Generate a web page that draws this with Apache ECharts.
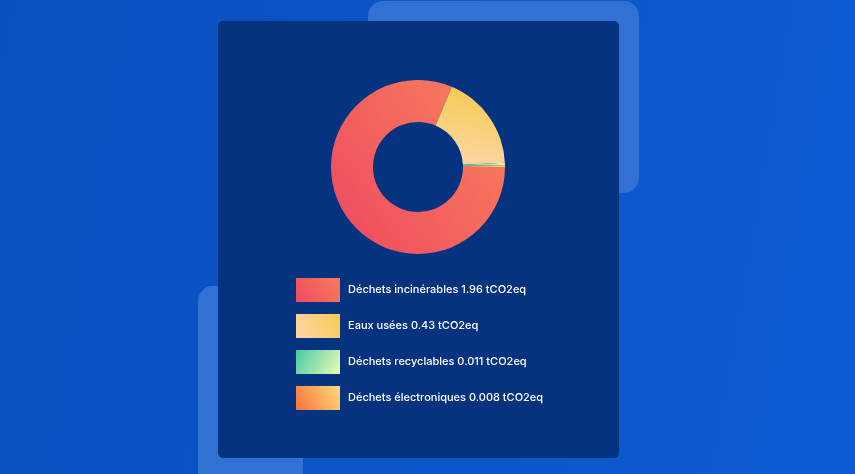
<!DOCTYPE html>
<html>
<head>
<meta charset="utf-8">
<script src="https://cdn.jsdelivr.net/npm/echarts@6/dist/echarts.min.js"></script>
<style>
  html, body { margin: 0; padding: 0; width: 855px; height: 474px; overflow: hidden; }
  body { background: linear-gradient(100deg, #094fbf 0%, #0b55c9 50%, #0d5cd3 100%); position: relative; font-family: Inter, "Noto Sans", sans-serif; }
  .deco { position: absolute; background: #3171d3; border-radius: 15px; }
  #card { position: absolute; left: 218px; top: 21px; width: 401px; height: 437px; background: #05337f; border-radius: 5px; }
  #chart { width: 401px; height: 437px; }
</style>
</head>
<body>
<div class="deco" style="left:368px;top:1px;width:271px;height:192px;"></div>
<div class="deco" style="left:198px;top:286px;width:105px;height:220px;"></div>
<div id="card"><div id="chart"></div></div>
<script>
var myChart = echarts.init(document.getElementById('chart'));

var categories = ['Déchets incinérables', 'Eaux usées', 'Déchets recyclables', 'Déchets électroniques'];
var values = [1.96, 0.43, 0.011, 0.008];
var unit = 'tCO2eq';
// gradient stops: [start colour, end colour]
var gradients = [
    ['#ee4c60', '#f87a5d'],
    ['#ffd6a8', '#f4cb52'],
    ['#45cba9', '#eefab0'],
    ['#f5733a', '#ffdb7c']
];
// gradient direction in the ring [x, y, x2, y2] and in the legend boxes
var ringDir = [[0, 0.85, 0.9, 0.2], [0.15, 1, 0.35, 0], [0, 0, 1, 1], [0, 1, 1, 0]];
var legendDir = [[0, 1, 1, 0], [0, 1, 1, 0], [0, 0, 1, 1], [0, 1, 1, 0]];

function grad(c, d) {
    return new echarts.graphic.LinearGradient(d[0], d[1], d[2], d[3], [
        {offset: 0, color: c[0]},
        {offset: 1, color: c[1]}
    ]);
}

var data = [];
var legendData = [];
for (var i = 0; i < categories.length; i++) {
    data.push({
        name: categories[i],
        value: values[i],
        itemStyle: {color: grad(gradients[i], ringDir[i])}
    });
    legendData.push({
        name: categories[i],
        itemStyle: {color: grad(gradients[i], legendDir[i])}
    });
}

option = {
    legend: {
        orient: 'vertical',
        left: 73,
        top: 252,
        itemWidth: 44,
        itemHeight: 24,
        itemGap: 12,
        icon: 'rect',
        textStyle: {
            color: '#ffffff',
            fontSize: 11,
            fontWeight: 500,
            fontFamily: 'Inter',
            padding: [0, 0, 0, 3]
        },
        formatter: function (name) {
            var idx = categories.indexOf(name);
            return name + ' ' + values[idx] + ' ' + unit;
        },
        data: legendData
    },
    series: [
        {
            name: '',
            type: 'pie',
            center: [200, 146],
            radius: [45, 87],
            startAngle: 0,
            clockwise: true,
            silent: true,
            label: {show: false},
            labelLine: {show: false},
            data: data
        }
    ]
};
myChart.setOption(option);
</script>
</body>
</html>
